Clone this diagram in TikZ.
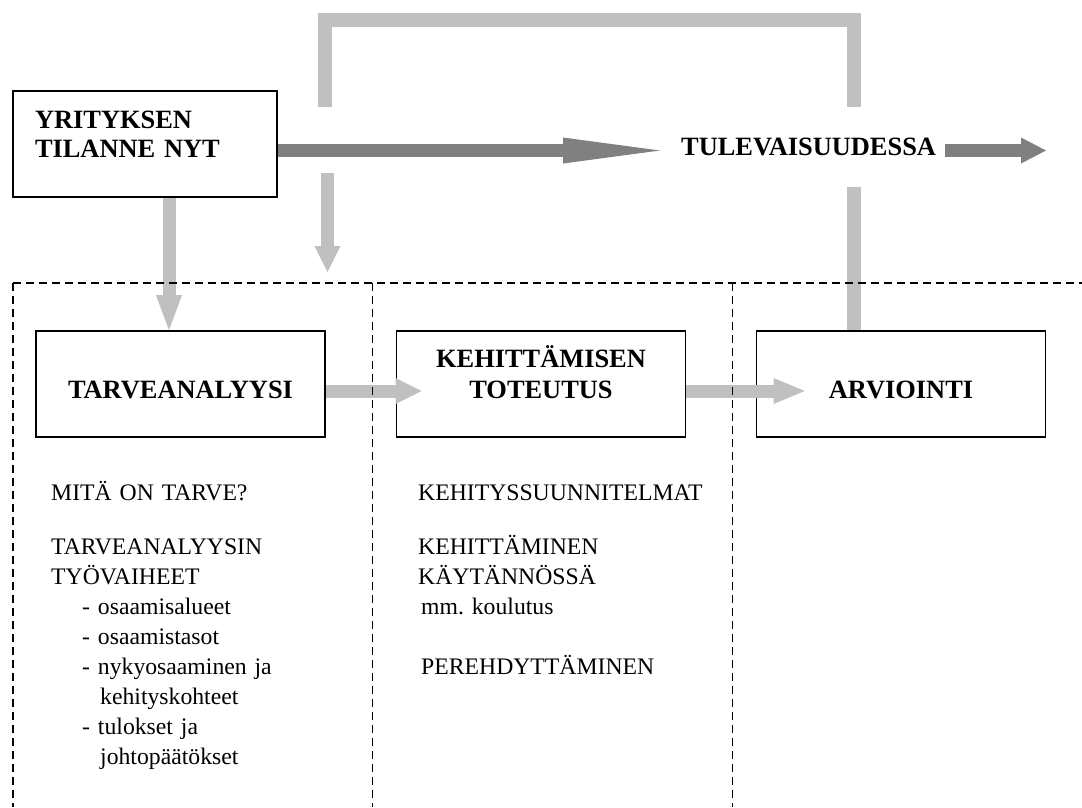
\documentclass[tikz,border=0pt]{standalone}
\usepackage{fontspec}
\setmainfont{Liberation Serif}
\usetikzlibrary{arrows.meta}
\definecolor{vaalea}{RGB}{192,192,192}
\definecolor{tumma}{RGB}{128,128,128}

\begin{document}
\begin{tikzpicture}[x=1pt, y=-1pt,
    startbox/.style={draw, line width=1.6pt, inner ysep=0pt, inner xsep=22pt,
      minimum height=106pt, align=left,
      font=\bfseries\fontsize{26.4}{29}\selectfont},
    stagebox/.style={draw, line width=1.6pt, inner sep=0pt,
      minimum width=289pt, minimum height=106pt, align=center,
      font=\bfseries\fontsize{26.4}{31}\selectfont},
    notes/.style={inner sep=0pt, align=left, anchor=base west,
      font=\fontsize{23.7}{30}\selectfont},
    light/.style={vaalea, line width=13pt},
    dark/.style={tumma, line width=13pt},
    loopline/.style={vaalea, line width=14pt, line join=miter},
    frame/.style={black, line width=1.4pt, dash pattern=on 8pt off 5pt}]
    \useasboundingbox (0,0) rectangle (1082,807);

    % Laatikot
    \node[startbox, text width=220pt, text height=20pt, text depth=52pt] (now) at (145,144)
        {YRITYKSEN\\TILANNE NYT};
    \node[inner xsep=9pt, inner ysep=0pt, text height=18pt, text depth=9pt, anchor=base west,
        font=\bfseries\fontsize{26.4}{29}\selectfont] (future) at (672,155) {TULEVAISUUDESSA};
    \node[stagebox, text height=28pt, text depth=0pt] (tarve) at (180.5,384) {TARVEANALYYSI};
    \node[stagebox, text width=260pt, text height=20pt, text depth=54pt] (kehit) at (541,384)
        {KEHITTÄMISEN\\TOTEUTUS};
    \node[stagebox, text height=28pt, text depth=0pt] (arvi) at (901,384) {ARVIOINTI};

    % Tekstit
    \node[notes, text width=300pt] (needs) at (51,500) {MITÄ ON TARVE?\\[24pt]
        TARVEANALYYSIN\\
        TYÖVAIHEET\\
        \hspace*{31pt}- osaamisalueet\\
        \hspace*{31pt}- osaamistasot\\
        \hspace*{31pt}- nykyosaaminen ja\\
        \hspace*{49pt}kehityskohteet\\
        \hspace*{31pt}- tulokset ja\\
        \hspace*{49pt}johtopäätökset};
    \node[notes, text width=310pt] (means) at (418,500) {KEHITYSSUUNNITELMAT\\[24pt]
        KEHITTÄMINEN\\
        KÄYTÄNNÖSSÄ\\
        \hspace*{3pt}mm.\ koulutus\\[30pt]
        \hspace*{3pt}PEREHDYTTÄMINEN};

    % Apupisteet
    \coordinate (onward) at (1046,150.5);
    \coordinate (loopA) at (853.5,187);
    \coordinate (loopB) at (853.5,107);
    \coordinate (topR) at (853.5,19.5);
    \coordinate (topL) at (325,19.5);
    \coordinate (loopD) at (325,107);
    \coordinate (dropA) at (327.5,173);
    \coordinate (dropB) at (327.5,272);

    % Palaute
    \draw[loopline] ([xshift=-47.5pt]arvi.north) -- (loopA);
    \draw[loopline] (loopB) -- (topR) -- (topL) -- (loopD);
    \draw[light, -{Triangle[length=26pt, width=26pt, line width=0pt]}] (dropA) -- (dropB);

    % Nuolet
    \draw[dark, -{Triangle[length=97pt, width=26pt, line width=0pt]}]
        ([yshift=-6.5pt]now.east) -- ([xshift=-12pt]future.west);
    \draw[dark, -{Triangle[length=25pt, width=26pt, line width=0pt]}] (future.east) -- (onward);
    \draw[light, -{Triangle[length=35pt, width=26pt, line width=0pt]}]
        ([xshift=24pt]now.south) -- ([xshift=24pt]now.south |- tarve.north);
    \draw[light, -{Triangle[length=26pt, width=26pt, line width=0pt]}]
        ([yshift=-7pt]tarve.east) -- ([xshift=26pt, yshift=-7pt]kehit.west);
    \draw[light, -{Triangle[length=31pt, width=26pt, line width=0pt]}]
        ([yshift=-7pt]kehit.east) -- ([xshift=49pt, yshift=-7pt]arvi.west);

    % Katkoviivat
    \draw[frame] (13,283) -- (1082,283);
    \foreach \x in {13,372.5,732.5}
        \draw[frame] (\x,283) -- (\x,807);
\end{tikzpicture}
\end{document}
